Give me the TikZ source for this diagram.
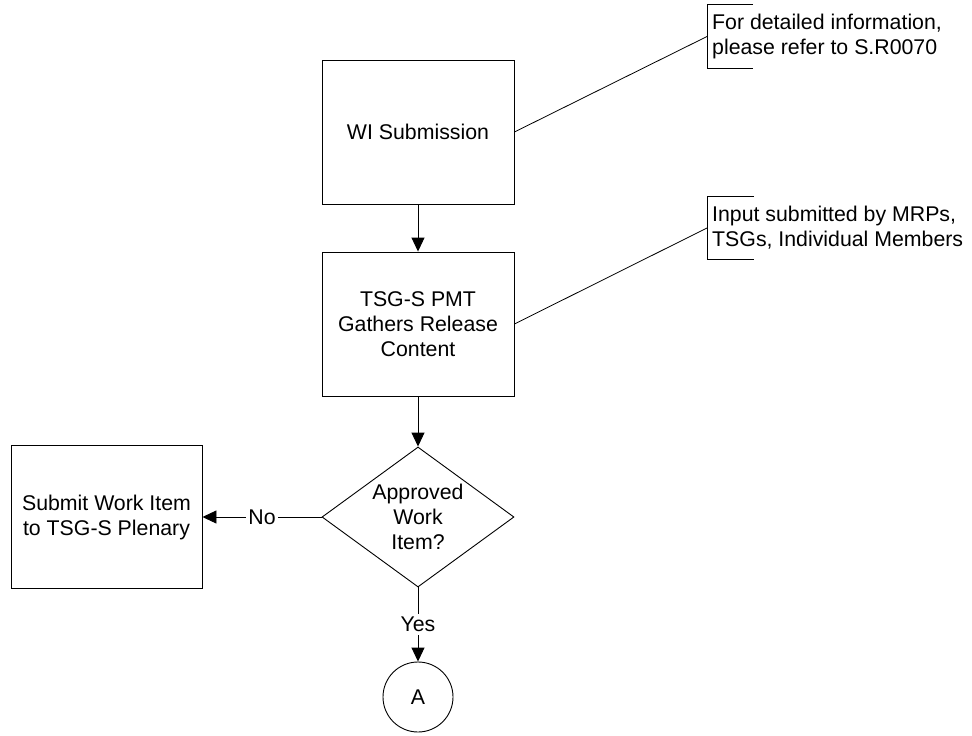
\documentclass[tikz,border=0pt]{standalone}
\usepackage{fontspec}
\setmainfont{Liberation Sans}
\usetikzlibrary{shapes.geometric,arrows.meta}
\begin{document}
\begin{tikzpicture}[x=1pt,y=-1pt,
  every node/.style={font=\fontsize{21.3}{25}\selectfont},
  box/.style={draw, line width=0.9pt, minimum width=192pt, minimum height=144pt, align=center, inner sep=0pt},
  dec/.style={draw, diamond, line width=0.9pt, minimum width=192pt, minimum height=140pt, inner sep=0pt},
  conn/.style={draw, circle, line width=0.9pt, minimum size=70pt, inner sep=0pt},
  note/.style={anchor=west, align=left, minimum height=63pt, inner xsep=5pt},
  flow/.style={line width=0.9pt, -{Triangle[length=14pt,width=13pt]}},
  lead/.style={line width=0.8pt}]
\useasboundingbox (0,0) rectangle (972,736);
\node[box] (b1) at (418,132) {WI Submission};
\node[box] (b2) at (418,324) {TSG-S PMT\\Gathers Release\\Content};
\node[dec] (d) at (418,517) {};
\node[align=center, inner sep=0pt] (dt) at (d.center) {Approved\\Work\\Item?};
\node[box, minimum width=191pt, minimum height=143pt] (lb) at (106.5,517) {Submit Work Item\\to TSG-S Plenary};
\node[conn] (c) at (418,697) {A};
\node[note] (n1) at (707,36.5) {For detailed information,\\please refer to S.R0070};
\node[note] (n2) at (707,228) {Input submitted by MRPs,\\TSGs, Individual Members};
\draw[lead] ([xshift=46pt]n1.north west) -- (n1.north west) -- (n1.south west) -- ([xshift=46pt]n1.south west);
\draw[lead] ([xshift=47pt]n2.north west) -- (n2.north west) -- (n2.south west) -- ([xshift=47pt]n2.south west);
\draw[lead] (b1.east) -- (n1.west);
\draw[lead] (b2.east) -- (n2.west);
\draw[flow] (b1.south) -- (b2.north);
\draw[flow] (b2.south) -- (d.north);
\draw[flow] (d.west) -- node[fill=white, inner xsep=2pt, inner ysep=1pt] (no) {No} (lb.east);
\draw[flow] (d.south) -- node[fill=white, inner xsep=1pt, inner ysep=3pt] (yes) {Yes} (c.north);
\end{tikzpicture}
\end{document}
